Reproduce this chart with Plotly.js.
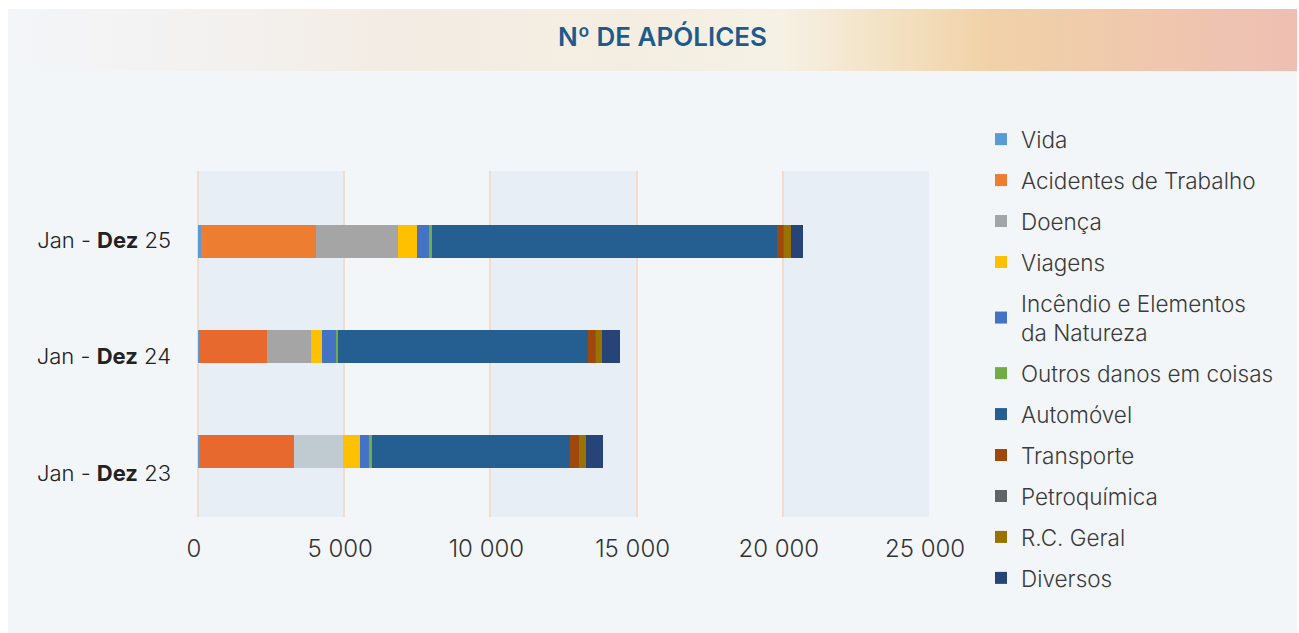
<!DOCTYPE html>
<html>
<head>
<meta charset="utf-8">
<script src="https://cdn.plot.ly/plotly-3.0.1.min.js"></script>
<style>
  html, body { margin: 0; padding: 0; background: #ffffff; width: 1299px; height: 633px; overflow: hidden; }
  #card { position: absolute; left: 8px; top: 9px; width: 1289px; height: 624px; background: #F3F6F9; }
  #banner { position: absolute; left: 10px; top: 9px; width: 1287px; height: 62px;
    background: linear-gradient(90deg, #F3F5F8 0%, #F3F2F1 14%, #F3ECE4 30%, #F4EEE2 48%, #F6F1E5 60%, #F3E2C4 68%, #F1D2A8 76%, #EFC6AE 90%, #EEBFB2 100%); }
  #chart { position: absolute; left: 0; top: 0; width: 1299px; height: 633px; }
</style>
</head>
<body>
<div id="card"></div>
<div id="banner"></div>
<div id="chart"></div>
<script>
// Categories (top to bottom)
const categories = ["Jan - Dez 25", "Jan - Dez 24", "Jan - Dez 23"];
const categoryLabels = ["Jan - <b>Dez</b> 25", "Jan - <b>Dez</b> 24", "Jan - <b>Dez</b> 23"];

// Series values (order: 25, 24, 23)
const vida         = [100, 20, 70];
const acidentes    = [3930, 2325, 3215];
const doenca       = [2800, 1505, 1675];
const viagens      = [650, 375, 580];
const incendio     = [410, 515, 310];
const outrosDanos  = [100, 35, 100];
const automovel    = [11800, 8550, 6770];
const transporte   = [240, 275, 310];
const petroquimica = [5, 5, 5];
const rcGeral      = [240, 205, 240];
const diversos     = [410, 615, 580];

const xTicks = [0, 5000, 10000, 15000, 20000, 25000];

const series = [
  { name: "Vida", values: vida, color: "#5B9BD5" },
  { name: "Acidentes de Trabalho", values: acidentes, color: ["#ED7D31", "#E8692D", "#E8692D"] },
  { name: "Doença", values: doenca, color: ["#A5A5A5", "#A5A5A5", "#BFCBD1"] },
  { name: "Viagens", values: viagens, color: "#FFC000" },
  { name: "Incêndio e Elementos<br>da Natureza", values: incendio, color: "#4472C4" },
  { name: "Outros danos em coisas", values: outrosDanos, color: "#70AD47" },
  { name: "Automóvel", values: automovel, color: "#255E91" },
  { name: "Transporte", values: transporte, color: "#9E480E" },
  { name: "Petroquímica", values: petroquimica, color: "#636363" },
  { name: "R.C. Geral", values: rcGeral, color: "#997300" },
  { name: "Diversos", values: diversos, color: "#264478" }
];

const traces = series.map((s, i) => ({
  type: "bar",
  orientation: "h",
  name: s.name,
  x: s.values,
  y: categories,
  legendgroup: "g" + i,
  marker: { color: s.color, line: { width: 0 } },
  hoverinfo: "x+name"
}));

// invisible helper trace to carry the category labels axis
traces.push({
  type: "scatter",
  mode: "markers",
  x: categories.map(() => 0),
  y: categories,
  yaxis: "y2",
  marker: { opacity: 0 },
  showlegend: false,
  hoverinfo: "skip"
});

// alternating background bands
const shapes = [];
for (let i = 0; i < xTicks.length - 1; i += 2) {
  shapes.push({
    type: "rect", xref: "x", yref: "paper",
    x0: xTicks[i], x1: xTicks[i + 1], y0: 0, y1: 1,
    fillcolor: "#E8EEF6", line: { width: 0 }, layer: "below"
  });
}

const baseFont = "Inter, 'Open Sans', sans-serif";

const layout = {
  width: 1299, height: 633,
  paper_bgcolor: "rgba(0,0,0,0)",
  plot_bgcolor: "rgba(0,0,0,0)",
  margin: { l: 198, r: 370, t: 171, b: 116 },
  separators: ", ",
  barmode: "stack",
  bargap: 0.686,
  showlegend: true,
  font: { family: baseFont, color: "#333333" },
  title: {
    text: "Nº DE APÓLICES",
    font: { family: baseFont, size: 26, weight: 600, color: "#1F5A8C" },
    x: 0.51, xanchor: "center",
    y: 1 - 37 / 633, yanchor: "middle", yref: "container"
  },
  xaxis: {
    range: [0, 25000],
    tickvals: xTicks,
    tickformat: ",",
    showgrid: true,
    gridcolor: "#F3DCCB",
    gridwidth: 2,
    zeroline: true,
    zerolinecolor: "#F3DCCB",
    zerolinewidth: 2,
    showline: false,
    ticks: "",
    ticklabelstandoff: 15,
    ticklabelshift: -4,
    tickfont: { family: baseFont, size: 24, weight: 300, color: "#333333" },
    fixedrange: true
  },
  yaxis: {
    type: "category",
    categoryarray: categories,
    range: [2.624, -0.671],
    showticklabels: false,
    showgrid: false,
    zeroline: false,
    showline: false,
    ticks: "",
    fixedrange: true
  },
  yaxis2: {
    type: "category",
    overlaying: "y",
    side: "left",
    categoryarray: categories,
    range: [2.378, -0.592],
    tickvals: categories,
    ticktext: categoryLabels,
    showgrid: false,
    zeroline: false,
    showline: false,
    ticks: "",
    ticklabelstandoff: 26,
    tickfont: { family: baseFont, size: 22, weight: 300, color: "#222222" },
    fixedrange: true
  },
  legend: {
    xref: "container", yref: "container",
    x: 981 / 1299, xanchor: "left",
    y: 1 - 118 / 633, yanchor: "top",
    maxheight: 600,
    traceorder: "grouped",
    tracegroupgap: 8.7,
    bgcolor: "rgba(0,0,0,0)",
    font: { family: baseFont, size: 22.5, weight: 300, color: "#3A3A3A" }
  },
  shapes: shapes
};

Plotly.newPlot("chart", traces, layout, { displayModeBar: false });
</script>
</body>
</html>
